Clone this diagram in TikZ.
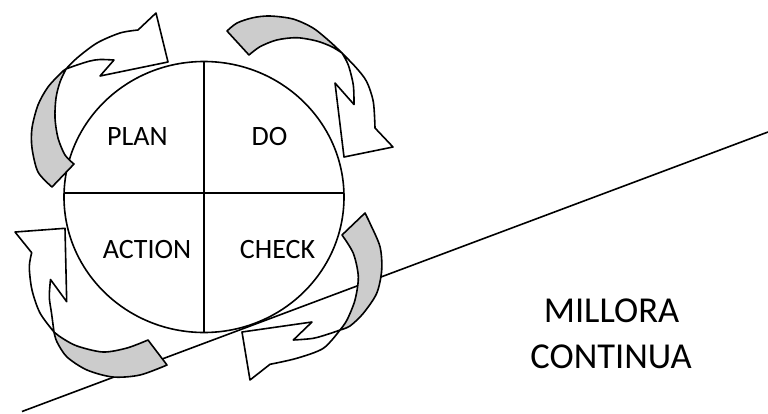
\documentclass[tikz,border=0pt]{standalone}
\usepackage{fontspec}
\setmainfont{Carlito}
\usetikzlibrary{positioning}

\begin{document}
\begin{tikzpicture}[x=1pt, y=-1pt, line join=round,
  band/.style={draw, fill=white, line width=1.6pt},
  back/.style={band, fill=gray!40},
  quad/.style={font=\fontsize{28}{33}\selectfont, inner sep=0pt, anchor=base},
  big/.style={font=\fontsize{36.5}{44}\selectfont, inner sep=0pt, anchor=base}]

\useasboundingbox (0,0) rectangle (768,413);

% --- Cycle ---
\draw[line width=1.6pt, fill=white] (204,197) ellipse (140pt and 135.5pt);
\draw[line width=1.6pt] (64,193) -- (344,193);
\draw[line width=1.6pt] (204,61.5) -- (204,332.5);

\node[quad] (plan) at (137.5,145.7) {PLAN};
\node[quad] (do) at (269.5,145.7) {DO};
\node[quad] (action) at (147,258) {ACTION};
\node[quad] (check) at (277.5,258) {CHECK};

% --- Slope ---
\draw[line width=1.6pt] (22,411.5) -- (768,132);

% --- Plan arrow ---
\filldraw[back] plot[smooth] coordinates {(52,187) (38,172) (32,148) (32,128) (38,105) (48,87) (62,72) (66,69)}
  -- plot[smooth] coordinates {(66,69) (60,82) (56,98) (55,118) (58,138) (65,155) (74,164)} -- cycle;
\filldraw[band] plot[smooth] coordinates {(66,69) (77,58) (97,43) (120,33) (138,30)}
  -- (156,13) -- (168,62) -- (100,76) -- (114,60)
  -- plot[smooth] coordinates {(114,60) (100,59.5) (90,61) (77,65) (66,69)} -- cycle;

% --- Do arrow ---
\filldraw[back] plot[smooth] coordinates {(227,31) (237,23) (253,17.7) (270,16) (293,19) (313,28) (330,41.7) (342,53)}
  -- plot[smooth] coordinates {(342,53) (331.7,46.7) (316.7,41) (296.7,37.7) (276.7,40) (260,46.7) (249,55)} -- cycle;
\filldraw[band] plot[smooth] coordinates {(342,53) (356.7,68.3) (366.7,81.7) (373.3,101.7) (375,128)}
  -- (393,147) -- (344,157) -- (335,83) -- (354,104.5)
  -- plot[smooth] coordinates {(354,104.5) (353.3,85) (348.3,65) (342,53)} -- cycle;

% --- Check arrow ---
\filldraw[back] plot[smooth] coordinates {(365,213) (370,223.3) (380,246.7) (381.7,270) (376.7,293.3) (363.3,313.3) (350,326) (340,330)}
  -- plot[smooth] coordinates {(340,330) (347,320) (355,300) (358.3,276.7) (353.3,253.3) (342,235)} -- cycle;
\filldraw[band] plot[smooth] coordinates {(340,330) (323.3,348.3) (296.7,358.3) (270,364.3)}
  -- (250,380) -- (242,332) -- (312,322) -- (293.3,340)
  -- plot[smooth] coordinates {(293.3,340) (313.3,338.3) (330,333.5) (340,330)} -- cycle;

% --- Action arrow ---
\filldraw[back] plot[smooth] coordinates {(167,365) (140,375) (113,377) (87,370) (67,357) (57,342) (54,332)}
  -- plot[smooth] coordinates {(54,332) (62,338) (77,346) (103,352) (127,348) (148,340)} -- cycle;
\filldraw[band] plot[smooth] coordinates {(54,332) (40,313) (32,290) (29.3,267) (31.7,252.7)}
  -- (15,232) -- (65,228.3) -- (66.7,301.7) -- (50.5,279.5)
  -- plot[smooth] coordinates {(50.5,279.5) (49.3,297) (51.5,313) (54,332)} -- cycle;

% --- Label ---
\node[big] (millora) at (611.5,322.7) {MILLORA};
\node[big] (continua) at (611,368) {CONTINUA};

\end{tikzpicture}
\end{document}
